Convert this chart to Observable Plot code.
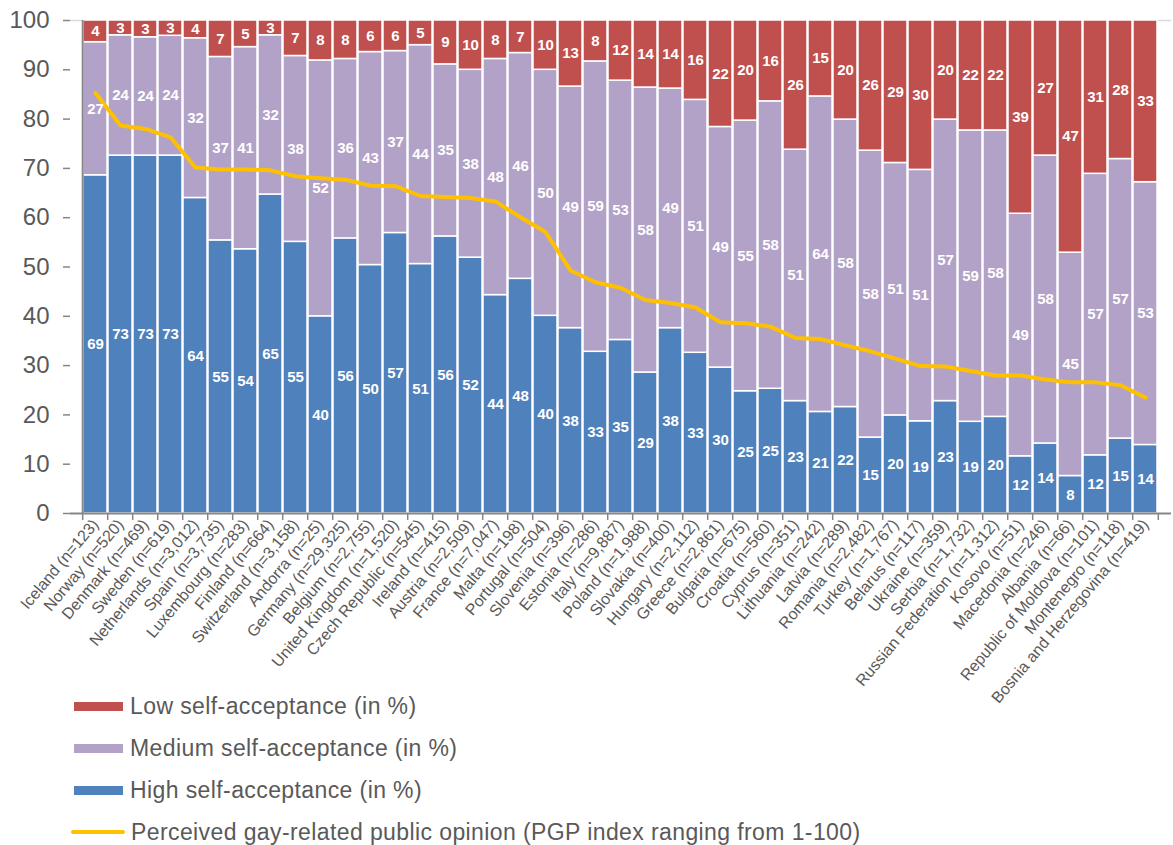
<!DOCTYPE html>
<html><head><meta charset="utf-8">
<script src="https://cdn.jsdelivr.net/npm/d3@7"></script>
<script src="https://cdn.jsdelivr.net/npm/@observablehq/plot@0.6"></script>
<style>
body{margin:0;background:#fff;font-family:"Liberation Sans",Arial,sans-serif;}
#chart svg{display:block;}
#legend{height:160px;position:relative;margin-top:-45px;width:900px;}
.row{display:flex;align-items:center;height:42px;padding-left:74px;font-size:23px;letter-spacing:0.4px;color:#595959;white-space:nowrap;}
.sw{width:49px;height:9px;margin-right:7px;flex:none;}
.ln{width:54px;height:4px;border-radius:2px;margin-left:-3px;margin-right:6px;flex:none;}
</style></head><body>
<div id="chart"></div>
<div id="legend"></div>
<script>
const countries = ["Iceland (n=123)", "Norway (n=520)", "Denmark (n=469)", "Sweden (n=619)", "Netherlands (n=3,012)", "Spain (n=3,735)", "Luxembourg (n=283)", "Finland (n=664)", "Switzerland (n=3,158)", "Andorra (n=25)", "Germany (n=29,325)", "Belgium (n=2,755)", "United Kingdom (n=1,520)", "Czech Republic (n=545)", "Ireland (n=415)", "Austria (n=2,509)", "France (n=7,047)", "Malta (n=198)", "Portugal (n=504)", "Slovenia (n=396)", "Estonia (n=286)", "Italy (n=9,887)", "Poland (n=1,988)", "Slovakia (n=400)", "Hungary (n=2,112)", "Greece (n=2,861)", "Bulgaria (n=675)", "Croatia (n=560)", "Cyprus (n=351)", "Lithuania (n=242)", "Latvia (n=289)", "Romania (n=2,482)", "Turkey (n=1,767)", "Belarus (n=117)", "Ukraine (n=359)", "Serbia (n=1,732)", "Russian Federation (n=1,312)", "Kosovo (n=51)", "Macedonia (n=246)", "Albania (n=66)", "Republic of Moldova (n=101)", "Montenegro (n=118)", "Bosnia and Herzegovina (n=419)"];

const high = [68.6, 72.6, 72.6, 72.6, 64.0, 55.4, 53.6, 64.7, 55.1, 40.0, 55.8, 50.4, 56.9, 50.6, 56.2, 51.9, 44.3, 47.6, 40.1, 37.6, 32.8, 35.2, 28.6, 37.6, 32.6, 29.6, 24.8, 25.3, 22.8, 20.6, 21.6, 15.4, 19.9, 18.7, 22.8, 18.6, 19.6, 11.6, 14.2, 7.6, 11.8, 15.2, 13.9];
const medium = [27.0, 24.4, 24.0, 24.3, 32.4, 37.2, 41.0, 32.3, 37.7, 51.9, 36.4, 43.2, 36.9, 44.4, 34.9, 38.1, 47.9, 45.8, 49.9, 49.0, 58.9, 52.6, 57.8, 48.6, 51.3, 48.8, 54.9, 58.3, 51.0, 64.0, 58.3, 58.2, 51.2, 51.0, 57.1, 59.1, 58.1, 49.2, 58.4, 45.3, 57.1, 56.7, 53.3];
const low = [4.4, 3.0, 3.4, 3.1, 3.6, 7.4, 5.4, 3.0, 7.2, 8.1, 7.8, 6.4, 6.2, 5.0, 8.9, 10.0, 7.8, 6.6, 10.0, 13.4, 8.3, 12.2, 13.6, 13.8, 16.1, 21.6, 20.3, 16.4, 26.2, 15.4, 20.1, 26.4, 28.9, 30.3, 20.1, 22.3, 22.3, 39.2, 27.4, 47.1, 31.1, 28.1, 32.8];
const pgp = [85.3, 78.7, 78.0, 76.3, 70.2, 69.8, 69.8, 69.6, 68.4, 68.0, 67.7, 66.5, 66.4, 64.4, 64.2, 64.0, 63.3, 60.1, 57.1, 49.3, 46.9, 45.8, 43.3, 42.7, 41.8, 38.8, 38.6, 37.9, 35.6, 35.4, 34.1, 32.9, 31.4, 29.9, 29.8, 28.9, 28.0, 28.0, 27.2, 26.6, 26.6, 26.0, 23.5];
const yTicks = [0, 10, 20, 30, 40, 50, 60, 70, 80, 90, 100];

const seriesNames = ["High self-acceptance (in %)", "Medium self-acceptance (in %)", "Low self-acceptance (in %)"];
const seriesColors = ["#4F81BD", "#B3A2C7", "#C0504D"];
const lineName = "Perceived gay-related public opinion (PGP index ranging from 1-100)";
const lineColor = "#FFC000";

const seriesValues = [high, medium, low];
const stacked = [];
countries.forEach((c, i) => {
  seriesNames.forEach((s, k) => stacked.push({country: c, level: s, value: seriesValues[k][i]}));
});
const lineRows = countries.map((c, i) => ({country: c, pgp: pgp[i]}));

const W = 1173, H = 730, mL = 70, mR = 2, mT = 20, mB = 217;
const step = (W - mL - mR) / countries.length;
const axisGrey = "#868686", textGrey = "#595959";

const chart = Plot.plot({
  width: W, height: H,
  marginLeft: mL, marginRight: mR, marginTop: mT, marginBottom: mB,
  style: {fontFamily: "'Liberation Sans', Arial, sans-serif", background: "transparent"},
  x: {domain: countries, paddingInner: 0.03, paddingOuter: 0.015, label: null},
  y: {domain: [0, 100], label: null},
  color: {domain: seriesNames, range: seriesColors},
  marks: [
    Plot.ruleY([100], {stroke: "#D9D9D9", strokeWidth: 1.5}),
    Plot.barY(stacked, {x: "country", y: "value", z: "level", fill: "level", stroke: "#fff", strokeWidth: 1.5}),
    Plot.line(lineRows, {x: "country", y: "pgp", stroke: lineColor, strokeWidth: 4, strokeLinejoin: "round", strokeLinecap: "round"}),
    Plot.text(stacked, Plot.stackY({x: "country", y: "value", z: "level", text: d => String(Math.round(d.value)), fill: "#fff", fontWeight: "bold", fontSize: 15})),
    Plot.ruleY([0], {stroke: axisGrey, strokeWidth: 2}),
    Plot.ruleX([countries[0]], {x: d => d, dx: -step / 2, stroke: axisGrey, strokeWidth: 2}),
    Plot.ruleX(countries, {x: d => d, y1: 0, y2: 0, insetBottom: -7, dx: -step / 2, stroke: axisGrey, strokeWidth: 1.5}),
    Plot.ruleX([countries[countries.length - 1]], {x: d => d, y1: 0, y2: 0, insetBottom: -7, dx: step / 2, stroke: axisGrey, strokeWidth: 1.5}),
    Plot.axisY({ticks: yTicks, tickSize: 7, tickPadding: 14, fontSize: 24, stroke: axisGrey, fill: textGrey, strokeWidth: 1.5, label: null}),
    Plot.axisX({tickSize: 0, tickRotate: -50, tickPadding: 8, fontSize: 16, fill: textGrey, label: null})
  ]
});
document.getElementById("chart").appendChild(chart);

const legend = document.getElementById("legend");
const legendItems = [
  {name: seriesNames[2], color: seriesColors[2], type: "sw"},
  {name: seriesNames[1], color: seriesColors[1], type: "sw"},
  {name: seriesNames[0], color: seriesColors[0], type: "sw"},
  {name: lineName, color: lineColor, type: "ln"}
];
legendItems.forEach(it => {
  const row = document.createElement("div");
  row.className = "row";
  const sw = document.createElement("span");
  sw.className = it.type;
  sw.style.background = it.color;
  const tx = document.createElement("span");
  tx.textContent = it.name;
  row.appendChild(sw);
  row.appendChild(tx);
  legend.appendChild(row);
});
</script>
</body></html>
